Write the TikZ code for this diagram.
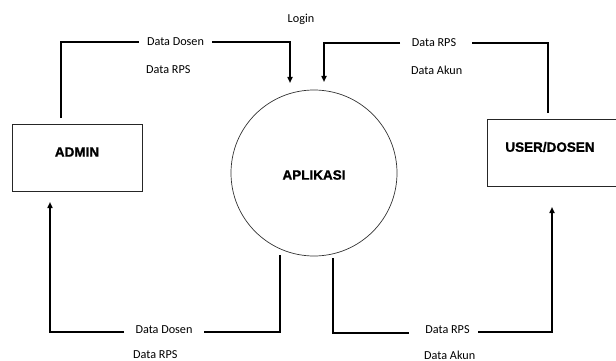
\documentclass[tikz,border=0pt]{standalone}
\usepackage{fontspec}
\setmainfont{Carlito}
\newfontfamily\boldsans[BoldFeatures={FakeBold=1.2}]{Liberation Sans}
\usetikzlibrary{arrows.meta}
\begin{document}
\begin{tikzpicture}[x=1pt,y=-1pt,
  flow/.style={line width=1.6pt,black},
  arr/.style={flow,-{Triangle[length=6pt,width=5pt]}},
  entity/.style={draw=black!85,line width=0.7pt},
  title/.style={font=\boldsans\bfseries\fontsize{13.5}{15}\selectfont},
  lbl/.style={font=\fontsize{12.2}{14}\selectfont,inner sep=0pt,text depth=0pt},
  gap/.style={lbl,inner xsep=8pt}]
\useasboundingbox (0,0) rectangle (616,361);
% entities
\draw[entity] (12,124) rectangle (142,191);
\node[title] (admin) at (77,152) {ADMIN};
\draw[entity] (487,119) rectangle (617,186);
\node[title] (user) at (550,147) {USER/DOSEN};
\node[draw=black!80,line width=0.7pt,circle,minimum size=166pt,inner sep=0pt] (app) at (314,173) {};
\node[title] (apl) at (314,175) {APLIKASI};
% labels
\node[lbl] (login) at (301,18) {Login};
% top-left
\node[gap,inner xsep=8pt] (tld) at (175.5,42) {Data Dosen};
\node[lbl,anchor=west] (tlr) at (146,70) {Data RPS};
\coordinate (tla) at (61,118);
\coordinate (tlb) at (290,83);
\draw[flow] (tla) |- (tld.west);
\draw[arr] (tld.east) -| (tlb);
% top-right
\node[lbl,inner xsep=0pt] (trd) at (434,43) {Data RPS};
\coordinate (trdw) at (400,43);
\coordinate (trde) at (472,43);
\node[lbl,anchor=west] (tra) at (411,70) {Data Akun};
\coordinate (tra1) at (548,113);
\coordinate (trb) at (324,82);
\draw[flow] (tra1) |- (trde);
\draw[arr] (trdw) -| (trb);
% bottom-left
\node[lbl] (bld) at (164,330) {Data Dosen};
\coordinate (blw) at (124,332);
\coordinate (ble) at (204,332);
\node[lbl,anchor=west] (blr) at (133,355) {Data RPS};
\coordinate (bla) at (280,255);
\coordinate (blb) at (50,202);
\draw[flow] (bla) |- (ble);
\draw[arr] (blw) -| (blb);
% bottom-right
\node[lbl] (brd) at (447.5,330) {Data RPS};
\coordinate (brw) at (409,333);
\coordinate (bre) at (478,332);
\node[lbl,anchor=west] (bra) at (424,355) {Data Akun};
\coordinate (bra1) at (333,258);
\coordinate (brb) at (552,207);
\draw[flow] (bra1) |- (brw);
\draw[arr] (bre) -| (brb);
\end{tikzpicture}
\end{document}
